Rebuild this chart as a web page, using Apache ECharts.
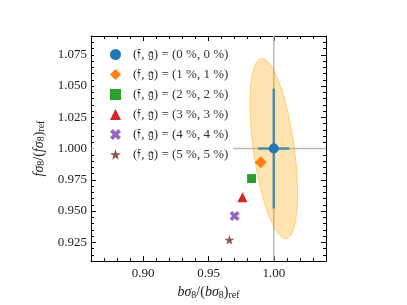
<!DOCTYPE html>
<html><head><meta charset="utf-8">
<script src="https://cdn.jsdelivr.net/npm/echarts@6/dist/echarts.min.js"></script>
<style>html,body{margin:0;padding:0;background:#fff}#c{width:407px;height:305px}</style>
</head><body><div id="c"></div>
<script>
// ---- data ----
const seriesNames = ['(𝔣, 𝔤) = (0 %, 0 %)','(𝔣, 𝔤) = (1 %, 1 %)','(𝔣, 𝔤) = (2 %, 2 %)','(𝔣, 𝔤) = (3 %, 3 %)','(𝔣, 𝔤) = (4 %, 4 %)','(𝔣, 𝔤) = (5 %, 5 %)'];
const bRatio = [1.000, 0.990, 0.983, 0.976, 0.970, 0.966];
const fRatio = [1.000, 0.989, 0.976, 0.961, 0.946, 0.927];
const errB = [0.012];
const errF = [0.048];
const ellipseCenter = [1.0, 1.0];
const ellipseSigma = [0.0182, 0.072]; // half extents in b and f
const ellipseRho = [-0.5];
const xTicks = [0.90, 0.95, 1.00];
const yTicks = [0.925, 0.950, 0.975, 1.000, 1.025, 1.050, 1.075];
const xRange = [0.86, 1.04];
const yRange = [0.91, 1.09];

const colors = ['#1f77b4','#ff7f0e','#2ca02c','#d62728','#9467bd','#8c564b'];
const symbols = ['circle','diamond','rect','triangle',
  'path://M0,2.5 L2.5,0 L5,2.5 L7.5,0 L10,2.5 L7.5,5 L10,7.5 L7.5,10 L5,7.5 L2.5,10 L0,7.5 L2.5,5 Z',
  'path://M50,0 L61,35 L98,35 L68,57 L79,91 L50,70 L21,91 L32,57 L2,35 L39,35 Z'];
const sizes = [10, 12, 9, 10, 10, 10];

const SERIF = '"Liberation Serif", "DejaVu Serif", serif';
const chart = echarts.init(document.getElementById('c'), null, {renderer:'canvas'});

function mkX(pos, major, labels){
  return {type:'value', position:pos, min:xRange[0], max:xRange[1],
    interval: major ? undefined : 0.01,
    splitLine:{show:false},
    axisLine:{show:major, onZero:false, lineStyle:{color:'#000', width:1}},
    axisTick:{show:true, inside:true, length: major?5:3, lineStyle:{color:'#000', width:1},
      customValues: major ? xTicks : undefined},
    axisLabel:{show:labels, customValues: labels ? xTicks : undefined, margin:6,
      fontFamily:SERIF, fontSize:13, color:'#222', formatter:v=>v.toFixed(2)}
  };
}
function mkY(pos, major, labels){
  return {type:'value', position:pos, min:yRange[0], max:yRange[1],
    interval: major ? undefined : 0.005,
    splitLine:{show:false},
    axisLine:{show:major, onZero:false, lineStyle:{color:'#000', width:1}},
    axisTick:{show:true, inside:true, length: major?5:3, lineStyle:{color:'#000', width:1},
      customValues: major ? yTicks : undefined},
    axisLabel:{show:labels, customValues: labels ? yTicks : undefined, margin:4,
      fontFamily:SERIF, fontSize:13, color:'#222', formatter:v=>v.toFixed(3)}
  };
}
const nameStyle = {fontFamily:SERIF, fontSize:14, color:'#222', rich:{
  i:{fontFamily:SERIF, fontStyle:'italic', fontSize:14, color:'#222'},
  n:{fontFamily:SERIF, fontSize:14, color:'#222'},
  s:{fontFamily:SERIF, fontSize:10, color:'#222', padding:[6,0,0,0]}}};
const xAxes = [mkX('bottom',false,false), mkX('bottom',true,true), mkX('top',false,false), mkX('top',true,false)];
const yAxes = [mkY('left',false,false), mkY('left',true,true), mkY('right',false,false), mkY('right',true,false)];
xAxes[1].name = '{i|bσ}{s|8}{n|/(}{i|bσ}{s|8}{n|)}{s|ref}';
xAxes[1].nameLocation = 'middle';
xAxes[1].nameGap = 20;
xAxes[1].nameTextStyle = nameStyle;
yAxes[1].name = '{i|fσ}{s|8}{n|/(}{i|fσ}{s|8}{n|)}{s|ref}';
yAxes[1].nameLocation = 'middle';
yAxes[1].nameRotate = 90;
yAxes[1].nameGap = 36;
yAxes[1].nameTextStyle = nameStyle;

const series = [];
// reference lines
series.push({type:'line', xAxisIndex:0, yAxisIndex:0, data:[[xRange[0],1],[xRange[1],1]], symbol:'none', silent:true,
  lineStyle:{color:'#b8b8b8', width:1.5}, z:1});
series.push({type:'line', xAxisIndex:0, yAxisIndex:0, data:[[1,yRange[0]],[1,yRange[1]]], symbol:'none', silent:true,
  lineStyle:{color:'#b8b8b8', width:1.5}, z:1});
// ellipse
series.push({type:'custom', xAxisIndex:0, yAxisIndex:0, z:2, silent:true, data:[ellipseCenter],
  renderItem:function(params, api){
    const cx = api.value(0), cy = api.value(1);
    const sx = ellipseSigma[0], sy = ellipseSigma[1], r = ellipseRho[0];
    const pts = [];
    for (let k=0;k<=120;k++){
      const t = k/120*2*Math.PI;
      const x = cx + sx*Math.cos(t);
      const y = cy + sy*(r*Math.cos(t) + Math.sqrt(1-r*r)*Math.sin(t));
      pts.push(api.coord([x,y]));
    }
    return {type:'polygon', shape:{points:pts},
      style:{fill:'rgba(255,165,0,0.3)', stroke:'rgba(255,165,0,0.45)', lineWidth:1}};
  }});
// error bars
series.push({type:'custom', xAxisIndex:0, yAxisIndex:0, z:3, silent:true, data:[[bRatio[0], fRatio[0]]],
  renderItem:function(params, api){
    const cx = api.value(0), cy = api.value(1);
    const a = api.coord([cx-errB[0], cy]), b = api.coord([cx+errB[0], cy]);
    const c = api.coord([cx, cy-errF[0]]), d = api.coord([cx, cy+errF[0]]);
    const st = {stroke:'rgba(31,119,180,0.72)', lineWidth:2.6};
    return {type:'group', children:[
      {type:'line', shape:{x1:a[0],y1:a[1],x2:b[0],y2:b[1]}, style:st},
      {type:'line', shape:{x1:c[0],y1:c[1],x2:d[0],y2:d[1]}, style:st}]};
  }});
for (let i=0;i<seriesNames.length;i++){
  series.push({type:'scatter', name:seriesNames[i], xAxisIndex:0, yAxisIndex:0, z:5,
    symbol:symbols[i], symbolSize:sizes[i], symbolKeepAspect:true, data:[[bRatio[i], fRatio[i]]],
    itemStyle:{color:colors[i], opacity:1}});
}

chart.setOption({
  animation:false,
  grid:{left:91, top:36, width:235, height:235, containLabel:false},
  xAxis:xAxes, yAxis:yAxes,
  legend:{data:seriesNames, orient:'vertical', left:94, top:42, backgroundColor:'#fff',
    padding:[6,5,6,16], itemWidth:11, itemHeight:11, itemGap:7,
    textStyle:{fontFamily:SERIF, fontSize:13, color:'#333', padding:[0,0,0,7]}},
  series:series
});
</script></body></html>
